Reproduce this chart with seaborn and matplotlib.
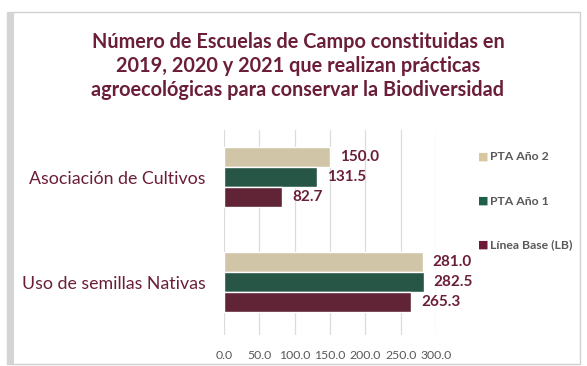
import matplotlib
matplotlib.use("Agg")
import matplotlib.pyplot as plt
import seaborn as sns
import pandas as pd
from matplotlib.patches import Rectangle

categories = ["Asociación de Cultivos", "Uso de semillas Nativas"]
series = ["PTA Año 2", "PTA Año 1", "Línea Base (LB)"]
pta_ano2 = [150.0, 281.0]
pta_ano1 = [131.5, 282.5]
linea_base = [82.7, 265.3]
x_ticks = [0, 50, 100, 150, 200, 250, 300]

colors = ["#D8C8A0", "#1F5E48", "#6A1A32"]
label_color = "#6B1E3A"
text_gray = "#595959"

rows = []
for s, vals in zip(series, [pta_ano2, pta_ano1, linea_base]):
    for c, v in zip(categories, vals):
        rows.append({"Categoría": c, "Serie": s, "Valor": v})
df = pd.DataFrame(rows)

sns.set_theme(style="white")
plt.rcParams["font.family"] = ["Lato", "DejaVu Sans"]

fig = plt.figure(figsize=(5.87, 3.66), dpi=100)
fig.patch.set_facecolor("white")

# card frame with a soft left shadow
fig.add_artist(Rectangle((7 / 587, 1 - 364 / 366), 573 / 587, 352 / 366,
                         transform=fig.transFigure, facecolor="white",
                         edgecolor="#D0D0D0", linewidth=1.0, zorder=0))
fig.add_artist(Rectangle((7 / 587, 1 - 364 / 366), 7 / 587, 352 / 366,
                         transform=fig.transFigure, facecolor="#D4D4D4",
                         edgecolor="none", zorder=0))

ax = fig.add_axes([224 / 587, 1 - 335 / 366, 212 / 587, 205 / 366])
ax.set_facecolor("none")

sns.barplot(data=df, y="Categoría", x="Valor", hue="Serie", order=categories,
            hue_order=series, palette=colors, orient="h", width=0.57, gap=0,
            dodge=True, errorbar=None, ax=ax, legend=False, zorder=3)

for container in ax.containers:
    ax.bar_label(container, labels=[f"{v:.1f}" for v in container.datavalues],
                 padding=7, color=label_color, fontsize=11, fontweight="bold")

ax.set_xlim(0, 300)
ax.set_ylim(1.5, -0.45)
ax.set_xticks(x_ticks)
ax.set_xticklabels([f"{t:.1f}" for t in x_ticks], fontsize=8.8, color=text_gray)
ax.tick_params(axis="x", length=0, pad=11)
ax.tick_params(axis="y", length=0, pad=13)
for lbl in ax.get_yticklabels():
    lbl.set_fontsize(12.8)
    lbl.set_color(label_color)
ax.set_xlabel("")
ax.set_ylabel("")
ax.grid(axis="x", color="#DCDCDC", linewidth=0.9, zorder=0)
ax.set_axisbelow(True)
for sp in ax.spines.values():
    sp.set_visible(False)

# legend on the right
for i, (s, col) in enumerate(zip(series, colors)):
    y = 1 - (157 + 44 * i) / 366
    fig.text(478 / 587, y, "■", color=col, fontsize=8, va="center", ha="left",
             family=["DejaVu Sans"])
    fig.text(490 / 587, y, s, color=text_gray, fontsize=8.8, fontweight="bold",
             va="center", ha="left")

fig.text(298 / 587, 1 - 66 / 366,
         "Número de Escuelas de Campo constituidas en\n"
         "2019, 2020 y 2021 que realizan prácticas\n"
         "agroecológicas para conservar la Biodiversidad",
         ha="center", va="center", fontsize=14.3, fontweight="bold",
         color=label_color, linespacing=1.22)

fig.savefig("out.png", dpi=100)
